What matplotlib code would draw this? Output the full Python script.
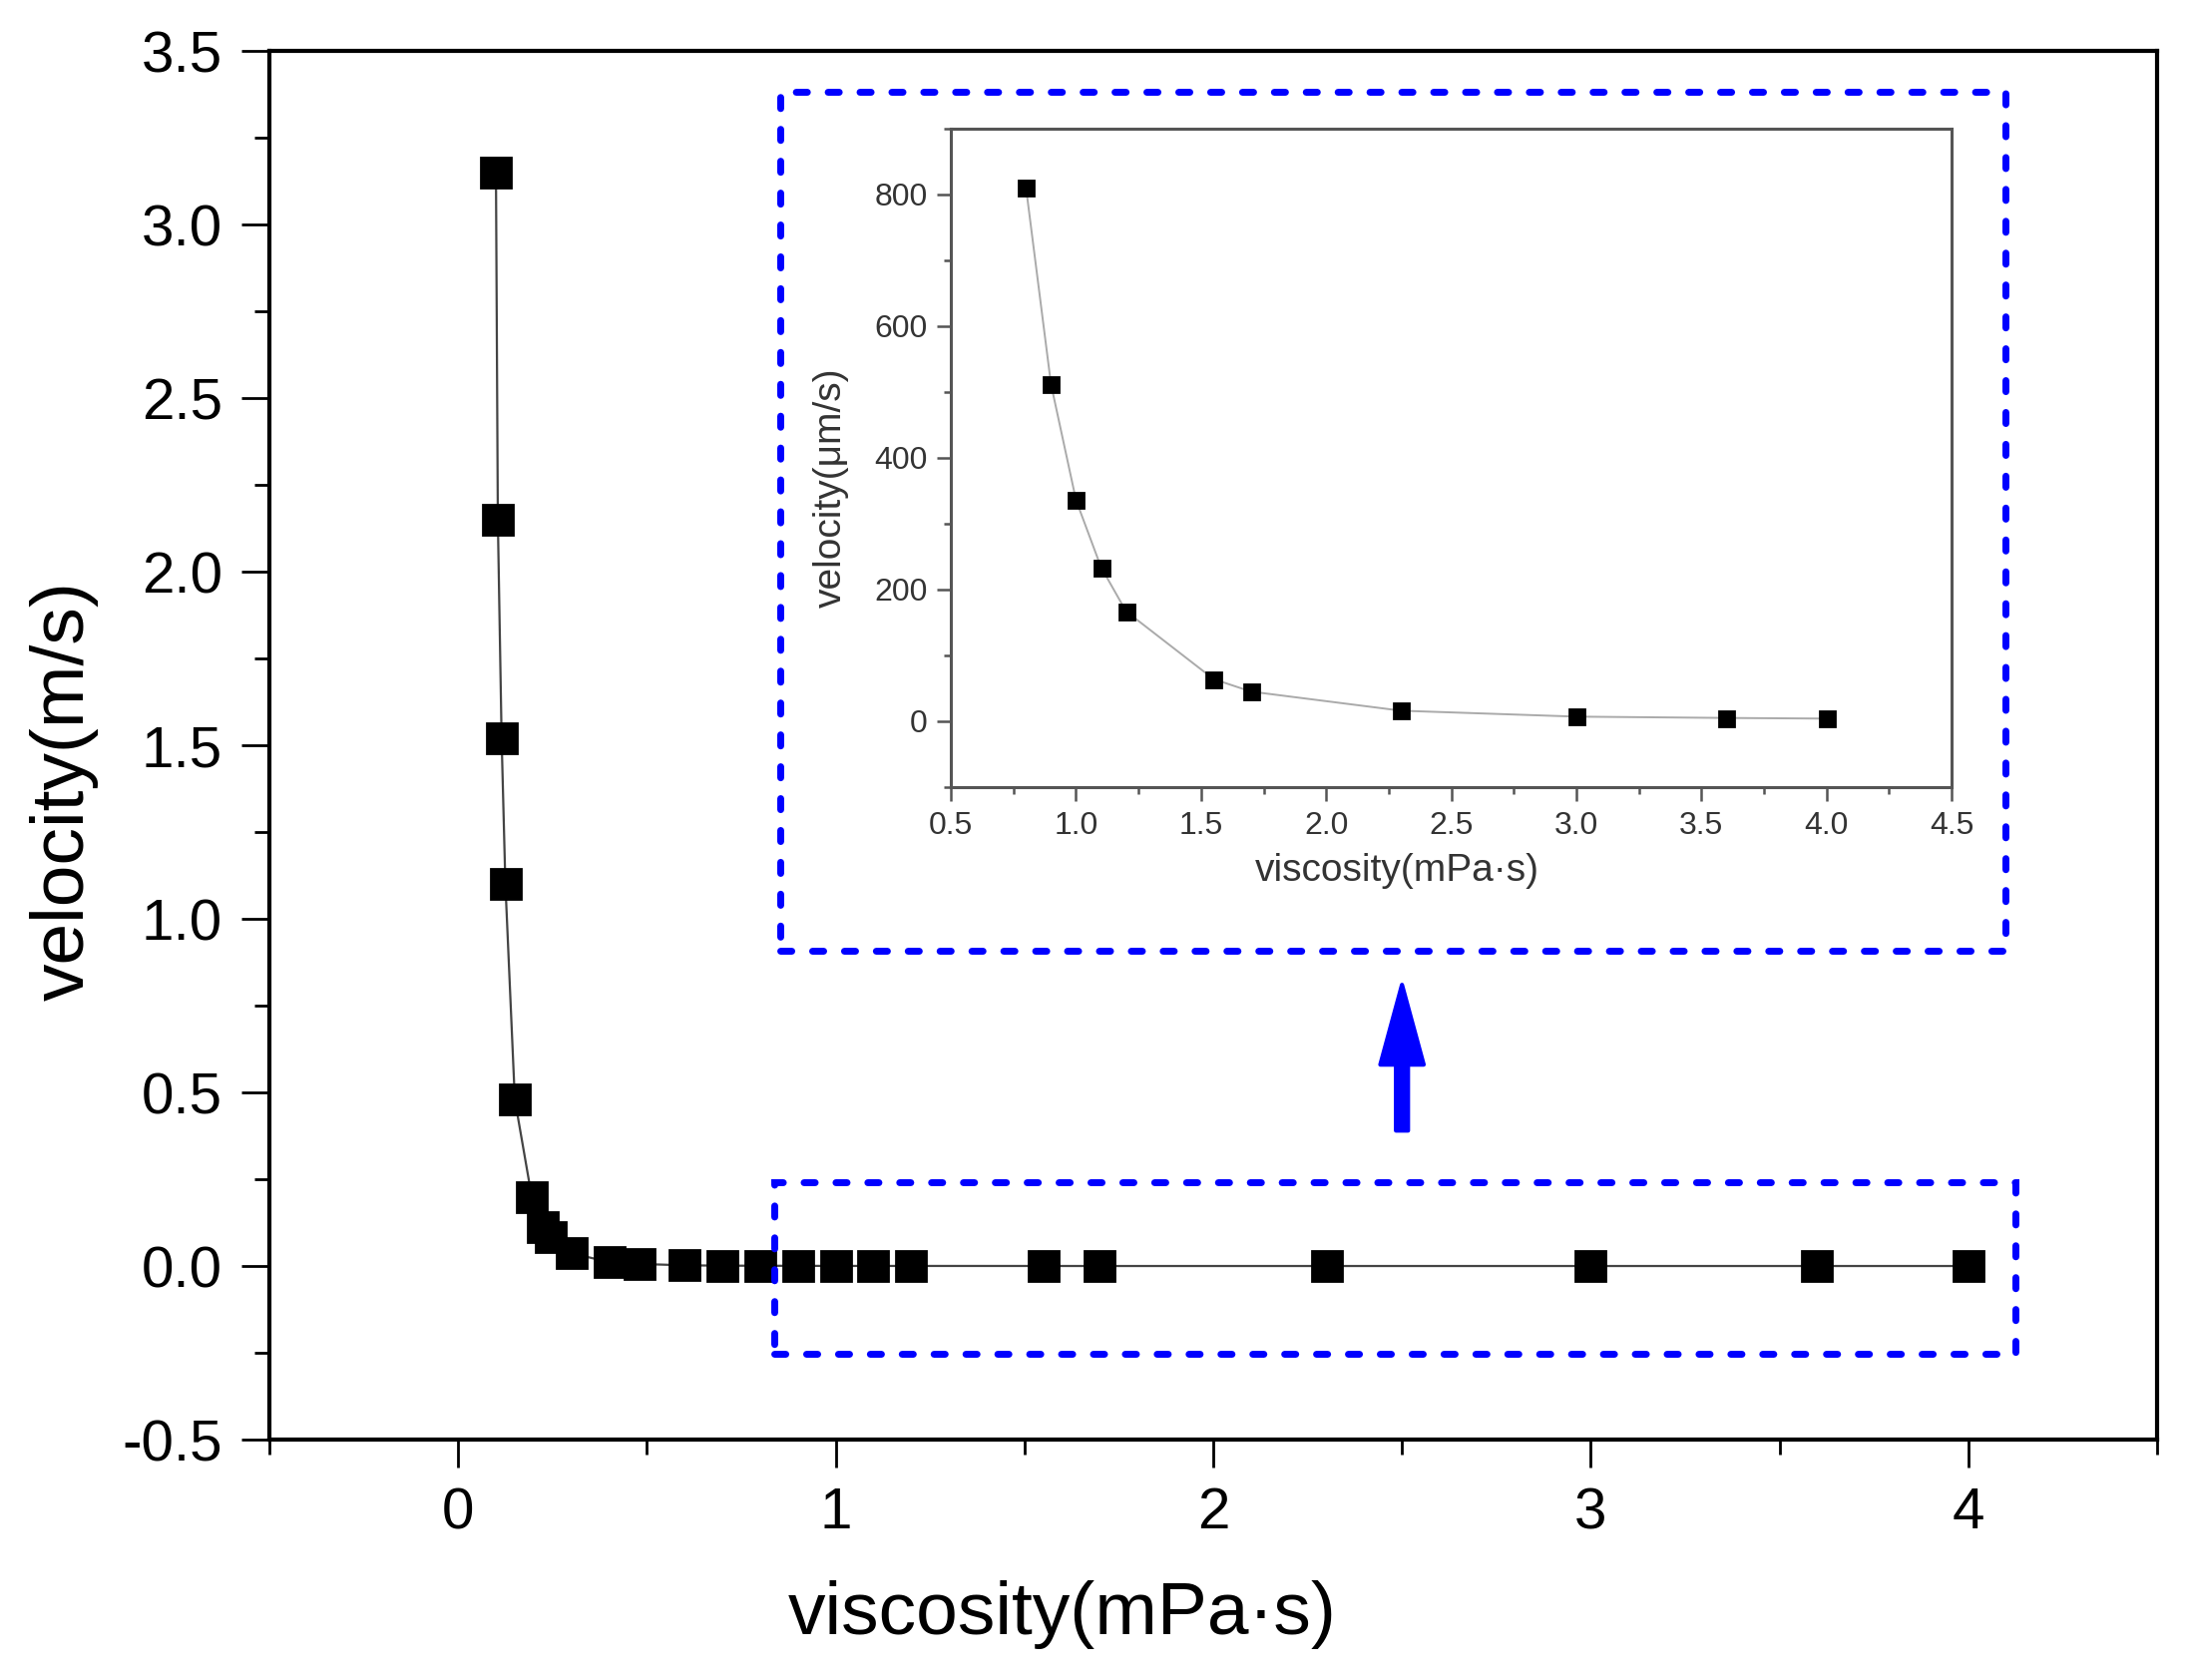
import matplotlib
matplotlib.use("Agg")
import matplotlib.pyplot as plt
from matplotlib.patches import Rectangle
from matplotlib.ticker import MultipleLocator, FormatStrFormatter

plt.rcParams['font.family'] = ['Liberation Sans', 'DejaVu Sans']

# main curve: viscosity (mPa·s) vs velocity (m/s)
visc = [0.10, 0.105, 0.115, 0.125, 0.15, 0.195, 0.225, 0.245, 0.30, 0.40, 0.48,
        0.60, 0.70, 0.80, 0.90, 1.00, 1.10, 1.20, 1.55, 1.70, 2.30, 3.00, 3.60, 4.00]
vel = [3.15, 2.15, 1.52, 1.10, 0.48, 0.198, 0.112, 0.083, 0.037, 0.011, 0.006,
       0.002, 0.001, 0.0008, 0.0005, 0.0003, 0.0002, 0.0002, 0.0001, 0.0,
       0.0, 0.0, 0.0, 0.0]

# zoomed curve: viscosity (mPa·s) vs velocity (µm/s)
visc_zoom = [0.80, 0.90, 1.00, 1.10, 1.20, 1.55, 1.70, 2.30, 3.00, 3.60, 4.00]
vel_zoom = [811, 512, 336, 234, 167, 64, 45, 16, 7, 5, 4]

blue = '#0000ff'

fig = plt.figure(figsize=(10.96, 8.42), dpi=200)
ax = fig.add_axes([0.1232, 0.1431, 0.8631, 0.8266])

ax.plot(visc, vel, color='#444444', lw=0.8, marker='s', ms=11,
        mfc='black', mec='black', zorder=3)

ax.set_xlim(-0.5, 4.5)
ax.set_ylim(-0.5, 3.5)
ax.xaxis.set_major_locator(MultipleLocator(1))
ax.xaxis.set_minor_locator(MultipleLocator(0.5))
ax.yaxis.set_major_locator(MultipleLocator(0.5))
ax.yaxis.set_minor_locator(MultipleLocator(0.25))
ax.yaxis.set_major_formatter(FormatStrFormatter('%.1f'))
ax.tick_params(which='both', direction='out', top=False, right=False, width=1.0)
ax.tick_params(which='major', length=10, pad=7, labelsize=21)
ax.tick_params(which='minor', length=5.4)
for s in ax.spines.values():
    s.set_linewidth(1.5)
ax.set_xlabel('viscosity(mPa·s)', fontsize=27, va='center')
ax.set_ylabel('velocity(m/s)', fontsize=27, va='center')
ax.xaxis.set_label_coords(0.42, -0.126)
ax.yaxis.set_label_coords(-0.109, 0.467)

# dashed boxes: zoomed region and the inset frame
box_style = dict(fill=False, ec=blue, lw=2.5, ls=(0, (1.6, 3.0)),
                 capstyle='round', clip_on=False, zorder=5)
ax.add_patch(Rectangle((0.837, -0.253), 4.125 - 0.837, 0.241 + 0.253, **box_style))
ax.add_patch(Rectangle((0.852, 0.908), 4.098 - 0.852, 3.382 - 0.908, **box_style))

ax.arrow(2.5, 0.39, 0, 0.42, width=0.032, head_width=0.115, head_length=0.23,
         length_includes_head=True, fc=blue, ec=blue, lw=1.5,
         joinstyle='round', capstyle='round', zorder=5)

# inset
ins = fig.add_axes([0.4348, 0.5315, 0.4576, 0.3919])
ins.plot(visc_zoom, vel_zoom, color='#aaaaaa', lw=0.7, marker='s', ms=5.4,
         mfc='black', mec='black')
ins.set_xlim(0.5, 4.5)
ins.set_ylim(-100, 900)
ins.xaxis.set_major_locator(MultipleLocator(0.5))
ins.xaxis.set_minor_locator(MultipleLocator(0.25))
ins.yaxis.set_major_locator(MultipleLocator(200))
ins.yaxis.set_minor_locator(MultipleLocator(100))
ins.xaxis.set_major_formatter(FormatStrFormatter('%.1f'))
ins.tick_params(which='both', direction='out', top=False, right=False,
                color='#555555', labelcolor='#333333', width=0.9)
ins.tick_params(which='major', length=5, pad=3.5, labelsize=11.5)
ins.tick_params(which='minor', length=2.5)
for s in ins.spines.values():
    s.set_linewidth(1.1)
    s.set_color('#555555')
ins.set_xlabel('viscosity(mPa·s)', fontsize=14, color='#333333', va='center')
ins.set_ylabel('velocity(μm/s)', fontsize=14, color='#333333', va='center')
ins.xaxis.set_label_coords(0.446, -0.127)
ins.yaxis.set_label_coords(-0.12, 0.455)

fig.savefig('out.png', dpi=200)
